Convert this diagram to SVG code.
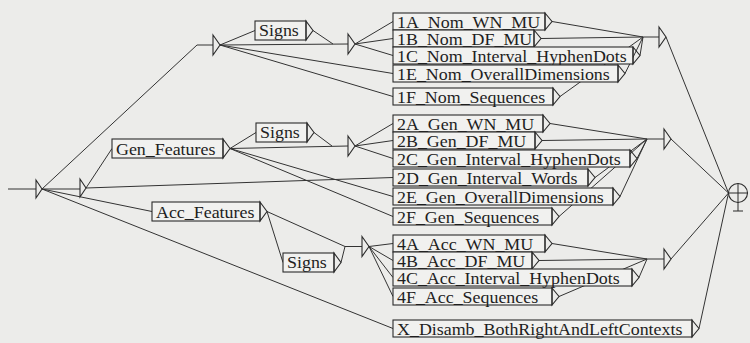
<svg xmlns="http://www.w3.org/2000/svg" width="750" height="343" viewBox="0 0 750 343">
<style>
.bg{fill:#ececea}
.b{fill:#f1f1ef;stroke:#2b2b2b;stroke-width:1.1}
.tri{fill:none;stroke:#2b2b2b;stroke-width:1.1;stroke-linejoin:miter}
.c line,.c polyline{stroke:#333;stroke-width:1;fill:none}
text{font-family:"Liberation Serif","Times New Roman",serif;font-size:16px;fill:#1e1e1e}
</style>
<rect class="bg" x="0" y="0" width="750" height="343"/>

<g id="connectors" class="c">
  <line x1="8" y1="189" x2="36" y2="189"/>
  <polyline points="42,189 197,45 213,45"/>
  <line x1="42" y1="189" x2="80" y2="189"/>
  <line x1="42" y1="189" x2="152" y2="211.5"/>
  <line x1="42" y1="189" x2="393" y2="328.5"/>
  <line x1="86" y1="188" x2="112" y2="148.5"/>
  <line x1="86" y1="188" x2="393" y2="177.5"/>
  <line x1="220" y1="45" x2="255" y2="30.5"/>
  <line x1="220" y1="45" x2="348" y2="44"/>
  <line x1="313" y1="30.5" x2="333" y2="44"/>
  <line x1="220" y1="45" x2="393" y2="73.5"/>
  <line x1="220" y1="45" x2="393" y2="96.5"/>
  <line x1="355" y1="44" x2="393" y2="21.5"/>
  <line x1="355" y1="44" x2="393" y2="38.5"/>
  <line x1="355" y1="44" x2="393" y2="55.5"/>
  <line x1="230" y1="148.5" x2="256" y2="132.5"/>
  <line x1="230" y1="148.5" x2="348" y2="146"/>
  <line x1="314" y1="132.5" x2="332" y2="146"/>
  <line x1="230" y1="148.5" x2="393" y2="196.5"/>
  <line x1="230" y1="148.5" x2="393" y2="216.5"/>
  <line x1="355" y1="146" x2="393" y2="123.5"/>
  <line x1="355" y1="146" x2="393" y2="140.5"/>
  <line x1="355" y1="146" x2="393" y2="158.5"/>
  <line x1="267" y1="211.5" x2="283" y2="262.5"/>
  <polyline points="267,211.5 345,246.5 362,246.5"/>
  <line x1="341" y1="262.5" x2="345" y2="246.5"/>
  <line x1="369" y1="246.5" x2="393" y2="243.5"/>
  <line x1="369" y1="246.5" x2="393" y2="260.5"/>
  <line x1="369" y1="246.5" x2="393" y2="277.5"/>
  <line x1="369" y1="246.5" x2="393" y2="296.5"/>
  <line x1="552" y1="21.5" x2="643" y2="37"/>
  <line x1="541" y1="38.5" x2="643" y2="37"/>
  <line x1="640" y1="55.5" x2="643" y2="37"/>
  <line x1="625" y1="73.5" x2="643" y2="37"/>
  <line x1="560" y1="96.5" x2="643" y2="37"/>
  <line x1="643" y1="37" x2="659" y2="37"/>
  <line x1="550" y1="123.5" x2="647" y2="139"/>
  <line x1="542" y1="140.5" x2="647" y2="139"/>
  <line x1="637" y1="158.5" x2="647" y2="139"/>
  <line x1="595" y1="177.5" x2="647" y2="139"/>
  <line x1="620" y1="196.5" x2="647" y2="139"/>
  <line x1="559" y1="216.5" x2="647" y2="139"/>
  <line x1="647" y1="139" x2="664" y2="139"/>
  <line x1="552" y1="243.5" x2="647" y2="259"/>
  <line x1="539" y1="260.5" x2="647" y2="259"/>
  <line x1="639" y1="277.5" x2="647" y2="259"/>
  <line x1="559" y1="296.5" x2="647" y2="259"/>
  <line x1="647" y1="259" x2="664" y2="259"/>
  <line x1="666" y1="37" x2="728.5" y2="193"/>
  <line x1="671" y1="139" x2="728.5" y2="193"/>
  <line x1="671" y1="259" x2="728.5" y2="193"/>
  <line x1="699" y1="328.5" x2="728.5" y2="193"/>
</g>

<g id="init"><polygon class="tri" points="36,180 42,189 36,198"/></g>
<g id="e_gen"><polygon class="tri" points="80,179 86,188 80,197"/></g>
<g id="e_nom"><polygon class="tri" points="213,35 220,45 213,55"/></g>
<g id="e_nom2"><polygon class="tri" points="348,34 355,44 348,54"/></g>
<g id="e_gen2"><polygon class="tri" points="348,136 355,146 348,156"/></g>
<g id="e_acc2"><polygon class="tri" points="362,236.5 369,246.5 362,256.5"/></g>
<g id="e_r1"><polygon class="tri" points="659,27 666,37 659,47"/></g>
<g id="e_r2"><polygon class="tri" points="664,129 671,139 664,149"/></g>
<g id="e_r3"><polygon class="tri" points="664,249 671,259 664,269"/></g>

<g id="final">
  <circle cx="738" cy="193" r="9.5" fill="none" stroke="#2b2b2b" stroke-width="1.1"/>
  <line x1="728.5" y1="193" x2="747.5" y2="193" stroke="#2b2b2b" stroke-width="1"/>
  <line x1="738" y1="183.5" x2="738" y2="211" stroke="#2b2b2b" stroke-width="1"/>
  <line x1="733" y1="211" x2="743" y2="211" stroke="#2b2b2b" stroke-width="1"/>
</g>

<g id="signs1"><rect class="b" x="255" y="21" width="51" height="19"/><polygon class="tri" points="306,21 313,30.5 306,40"/><text transform="translate(259,36) scale(1.12,1)">Signs</text></g>
<g id="gen_features"><rect class="b" x="112" y="139" width="111" height="19"/><polygon class="tri" points="223,139 230,148.5 223,158"/><text transform="translate(116,155) scale(1.12,1)">Gen_Features</text></g>
<g id="signs2"><rect class="b" x="256" y="123" width="51" height="19"/><polygon class="tri" points="307,123 314,132.5 307,142"/><text transform="translate(260,138) scale(1.12,1)">Signs</text></g>
<g id="acc_features"><rect class="b" x="152" y="202" width="108" height="19"/><polygon class="tri" points="260,202 267,211.5 260,221"/><text transform="translate(156,218) scale(1.12,1)">Acc_Features</text></g>
<g id="signs3"><rect class="b" x="283" y="253" width="51" height="19"/><polygon class="tri" points="334,253 341,262.5 334,272"/><text transform="translate(287,268) scale(1.12,1)">Signs</text></g>

<g id="n1A"><rect class="b" x="393" y="13" width="152" height="17"/><polygon class="tri" points="545,13 552,21.5 545,30"/><text transform="translate(397,28) scale(1.12,1)">1A_Nom_WN_MU</text></g>
<g id="n1B"><rect class="b" x="393" y="30" width="141" height="17"/><polygon class="tri" points="534,30 541,38.5 534,47"/><text transform="translate(397,45) scale(1.12,1)">1B_Nom_DF_MU</text></g>
<g id="n1C"><rect class="b" x="393" y="47" width="240" height="17"/><polygon class="tri" points="633,47 640,55.5 633,64"/><text transform="translate(397,62) scale(1.12,1)">1C_Nom_Interval_HyphenDots</text></g>
<g id="n1E"><rect class="b" x="393" y="65" width="225" height="17"/><polygon class="tri" points="618,65 625,73.5 618,82"/><text transform="translate(397,80) scale(1.12,1)">1E_Nom_OverallDimensions</text></g>
<g id="n1F"><rect class="b" x="393" y="88" width="160" height="17"/><polygon class="tri" points="553,88 560,96.5 553,105"/><text transform="translate(397,103) scale(1.12,1)">1F_Nom_Sequences</text></g>

<g id="n2A"><rect class="b" x="393" y="115" width="150" height="17"/><polygon class="tri" points="543,115 550,123.5 543,132"/><text transform="translate(397,130) scale(1.12,1)">2A_Gen_WN_MU</text></g>
<g id="n2B"><rect class="b" x="393" y="132" width="142" height="17"/><polygon class="tri" points="535,132 542,140.5 535,149"/><text transform="translate(397,147) scale(1.12,1)">2B_Gen_DF_MU</text></g>
<g id="n2C"><rect class="b" x="393" y="150" width="237" height="17"/><polygon class="tri" points="630,150 637,158.5 630,167"/><text transform="translate(397,165) scale(1.12,1)">2C_Gen_Interval_HyphenDots</text></g>
<g id="n2D"><rect class="b" x="393" y="169" width="195" height="17"/><polygon class="tri" points="588,169 595,177.5 588,186"/><text transform="translate(397,184) scale(1.12,1)">2D_Gen_Interval_Words</text></g>
<g id="n2E"><rect class="b" x="393" y="188" width="220" height="17"/><polygon class="tri" points="613,188 620,196.5 613,205"/><text transform="translate(397,203) scale(1.12,1)">2E_Gen_OverallDimensions</text></g>
<g id="n2F"><rect class="b" x="393" y="208" width="159" height="17"/><polygon class="tri" points="552,208 559,216.5 552,225"/><text transform="translate(397,223) scale(1.12,1)">2F_Gen_Sequences</text></g>

<g id="n4A"><rect class="b" x="393" y="235" width="152" height="17"/><polygon class="tri" points="545,235 552,243.5 545,252"/><text transform="translate(397,250) scale(1.12,1)">4A_Acc_WN_MU</text></g>
<g id="n4B"><rect class="b" x="393" y="252" width="139" height="17"/><polygon class="tri" points="532,252 539,260.5 532,269"/><text transform="translate(397,267) scale(1.12,1)">4B_Acc_DF_MU</text></g>
<g id="n4C"><rect class="b" x="393" y="269" width="239" height="17"/><polygon class="tri" points="632,269 639,277.5 632,286"/><text transform="translate(397,284) scale(1.12,1)">4C_Acc_Interval_HyphenDots</text></g>
<g id="n4F"><rect class="b" x="393" y="288" width="159" height="17"/><polygon class="tri" points="552,288 559,296.5 552,305"/><text transform="translate(397,303) scale(1.12,1)">4F_Acc_Sequences</text></g>

<g id="nX"><rect class="b" x="393" y="320" width="299" height="17"/><polygon class="tri" points="692,320 699,328.5 692,337"/><text transform="translate(397,335) scale(1.12,1)">X_Disamb_BothRightAndLeftContexts</text></g>
</svg>
